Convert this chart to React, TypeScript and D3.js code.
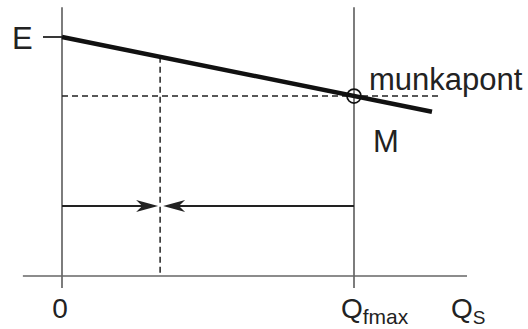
import React from "react";
import * as d3 from "d3";

// Quantity axis (Q_S) in units of Q_fmax, level axis in units of E
const axisQ = [-0.134, 1.387];
const guideQ = [0, 1]; // 0 and Q_fmax verticals
const guideLevel = [-0.05, 1.125];
const lineQ = [0, 1.267];
const lineLevel = [1, 0.687];
const workPoint = { q: 1, level: 0.753 };
const splitQ = 0.336;
const arrowLevel = 0.293;
const tickLabels = ["0", "Q"];

const W = 528;
const H = 329;

export default function App() {
  const x = d3.scaleLinear().domain([0, 1]).range([62, 354]);
  const y = d3.scaleLinear().domain([0, 1]).range([276, 37]);
  const lineGen = d3
    .line<[number, number]>()
    .x((d) => x(d[0]))
    .y((d) => y(d[1]));

  const thick: [number, number][] = lineQ.map((q, i) => [q, lineLevel[i]]);
  const lineAt = (q: number) =>
    lineLevel[0] + ((lineLevel[1] - lineLevel[0]) * (q - lineQ[0])) / (lineQ[1] - lineQ[0]);

  const ay = y(arrowLevel);
  const sx = x(splitQ);
  const headLen = 22;
  const headHalf = 6;
  const arrowHead = (tip: number, dir: number) =>
    `M${tip},${ay} L${tip - dir * headLen},${ay - headHalf} L${tip - dir * headLen * 0.72},${ay} L${tip - dir * headLen},${ay + headHalf} Z`;
  const leftTip = sx - 2;
  const rightTip = sx + 3;

  const font = "'Liberation Sans', Arial, sans-serif";
  const grey = "#666";

  return (
    <svg
      width={W}
      height={H}
      style={{ position: "absolute", left: 0, top: 0, background: "#fff" }}
      fontFamily={font}
    >
      {/* horizontal axis */}
      <line x1={x(axisQ[0])} x2={x(axisQ[1])} y1={y(0)} y2={y(0)} stroke={grey} strokeWidth={1.7} />
      {/* vertical guides */}
      {guideQ.map((q) => (
        <line
          key={q}
          x1={x(q)}
          x2={x(q)}
          y1={y(guideLevel[1])}
          y2={y(guideLevel[0])}
          stroke={grey}
          strokeWidth={1.7}
        />
      ))}
      {/* E tick */}
      <line x1={43} x2={x(0)} y1={y(1)} y2={y(1)} stroke="#222" strokeWidth={1.8} />
      {/* dashed helpers */}
      <line
        x1={x(0)}
        x2={x(1.29)}
        y1={y(workPoint.level)}
        y2={y(workPoint.level)}
        stroke="#222"
        strokeWidth={1.5}
        strokeDasharray="6 4"
      />
      <line
        x1={sx}
        x2={sx}
        y1={y(lineAt(splitQ))}
        y2={y(0)}
        stroke="#222"
        strokeWidth={1.5}
        strokeDasharray="6 4"
      />
      {/* arrows */}
      <line x1={x(0)} x2={leftTip - 10} y1={ay} y2={ay} stroke="#222" strokeWidth={2} />
      <path d={arrowHead(leftTip, 1)} fill="#222" />
      <line x1={x(1)} x2={rightTip + 10} y1={ay} y2={ay} stroke="#222" strokeWidth={2} />
      <path d={arrowHead(rightTip, -1)} fill="#222" />
      {/* E line */}
      <path d={lineGen(thick) || ""} stroke="#111" strokeWidth={4.5} fill="none" />
      {/* working point */}
      <circle
        cx={x(workPoint.q)}
        cy={y(workPoint.level)}
        r={7}
        fill="none"
        stroke="#111"
        strokeWidth={1.7}
      />
      {/* labels */}
      <text x={12} y={49} fontSize={31} fill="#222">E</text>
      <text x={369} y={90} fontSize={31} fill="#222">munkapont</text>
      <text x={373} y={152} fontSize={31} fill="#222">M</text>
      <text x={60} y={318} fontSize={28} fill="#222" textAnchor="middle">{tickLabels[0]}</text>
      <text x={341} y={318} fontSize={28} fill="#222">
        {tickLabels[1]}
        <tspan fontSize={21} dy={6}>fmax</tspan>
      </text>
      <text x={451} y={318} fontSize={28} fill="#222">
        Q
        <tspan fontSize={19} dy={6}>S</tspan>
      </text>
    </svg>
  );
}
